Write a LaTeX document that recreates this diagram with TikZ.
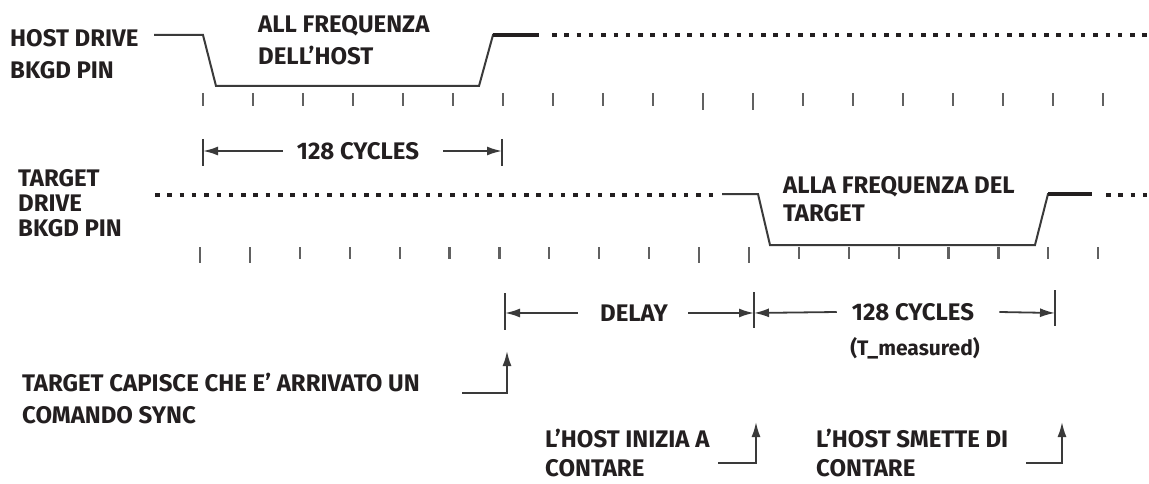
\documentclass[tikz,border=0pt]{standalone}
\usepackage{fontspec}
\setmainfont{Fira Sans}
\usetikzlibrary{arrows.meta}
\definecolor{ink}{HTML}{231F20}
\definecolor{wire}{HTML}{3A3A3A}
\begin{document}
\begin{tikzpicture}[x=1pt,y=-1pt,
  lbl/.style={font=\bfseries\fontsize{24}{#1}\selectfont, text=ink, align=left, inner sep=0pt, anchor=west},
  lbl/.default=32,
  ctr/.style={font=\bfseries\fontsize{24}{25}\selectfont, text=ink, inner sep=0pt},
  small/.style={font=\bfseries\fontsize{21}{22}\selectfont, text=ink, inner sep=0pt},
  wave/.style={line width=2pt, draw=wire, line join=miter},
  heavy/.style={line width=3.5pt, draw=ink},
  dots/.style={line width=3.2pt, draw=ink, dash pattern=on 4.5pt off 7.8pt},
  tick/.style={line width=2.2pt, draw=wire!80},
  bar/.style={line width=1.8pt, draw=wire},
  dimarrow/.style={line width=1.8pt, draw=wire, -{Latex[length=15pt,width=9pt]}},
  callout/.style={line width=1.8pt, draw=wire, -{Latex[length=15pt,width=9pt]}}
]
\useasboundingbox (0,0) rectangle (1149,484);

% ---------- Host row ----------
\node[lbl] (hostlbl) at (10,54) {HOST DRIVE\\BKGD PIN};
\node[lbl] (hostfreq) at (258,40) {ALL FREQUENZA\\DELL'HOST};
\draw[wave] (154,35) -- (203,35) -- (216,86) -- (479,86) -- (493,35) -- (500,35);
\draw[heavy] (493,35) -- (539,35);
\draw[dots] (552,35) -- (1149,35);
\foreach \k in {0,...,18} {
  \ifnum\k=10 \draw[tick] ({203+50*\k},93) -- ++(0,17);
  \else\ifnum\k=11 \draw[tick] ({203+50*\k},93) -- ++(0,17);
  \else \draw[tick] ({203+50*\k},93) -- ++(0,13); \fi\fi
}

% 128 cycles (host)
\node[ctr] (cyc1) at (358,151) {128 CYCLES};
\coordinate (b1) at (203,151);
\coordinate (b2) at (502,151);
\draw[bar] (203,139) -- (203,166);
\draw[bar] (502,139) -- (502,166);
\draw[dimarrow] ([xshift=-14pt]cyc1.west) -- (b1);
\draw[dimarrow] ([xshift=24pt]cyc1.east) -- (b2);

% ---------- Target row ----------
\node[lbl=25] (tgtlbl) at (18,203) {TARGET\\DRIVE\\BKGD PIN};
\node[lbl=28] (tgtfreq) at (783,199) {ALLA FREQUENZA DEL\\TARGET};
\draw[dots] (155,195) -- (716,195);
\draw[wave] (722,194) -- (758,194) -- (770,245) -- (1035,245) -- (1048,194) -- (1055,194);
\draw[heavy] (1048,194) -- (1092,194);
\draw[dots] (1106,195) -- (1149,195);
\foreach \k in {0,...,18} {
  \pgfmathsetmacro{\tx}{200+49.9*\k}
  \ifnum\k<2 \draw[tick] (\tx,247) -- ++(0,16);
  \else\ifnum\k=10 \draw[tick] (\tx,247) -- ++(0,16);
  \else\ifnum\k=11 \draw[tick] (\tx,247) -- ++(0,16);
  \else \draw[tick] (\tx,247) -- ++(0,12); \fi\fi\fi
}

% delay and 128 cycles (target)
\node[ctr] (delay) at (634,313) {DELAY};
\node[ctr] (cyc2) at (913,312) {128 CYCLES};
\node[small] (tmeas) at (915,348) {(T\_measured)};
\coordinate (d1) at (505,313);
\coordinate (d2) at (754,313);
\coordinate (d3) at (1055,313);
\draw[bar] (505,293) -- (505,330);
\draw[bar] (754,292) -- (754,328);
\draw[bar] (1055,290) -- (1055,326);
\draw[dimarrow] ([xshift=-22pt]delay.west) -- (d1);
\draw[dimarrow] ([xshift=20pt]delay.east) -- (d2);
\draw[dimarrow] ([xshift=-15pt]cyc2.west) -- (d2);
\draw[dimarrow] ([xshift=25pt]cyc2.east) -- (d3);

% ---------- Callouts ----------
\node[lbl] (sync) at (22,399) {TARGET CAPISCE CHE E' ARRIVATO UN\\COMANDO SYNC};
\coordinate (s0) at (462,393);
\coordinate (s1) at (507,393);
\coordinate (s2) at (507,351);
\draw[callout] (s0) -- (s1) -- (s2);

\node[lbl=29] (start) at (545,453) {L'HOST INIZIA A\\CONTARE};
\coordinate (h0) at (718,463);
\coordinate (h1) at (756,463);
\coordinate (h2) at (756,422);
\draw[callout] (h0) -- (h1) -- (h2);

\node[lbl=29] (stop) at (816,453) {L'HOST SMETTE DI\\CONTARE};
\coordinate (e0) at (1026,463);
\coordinate (e1) at (1062,463);
\coordinate (e2) at (1062,422);
\draw[callout] (e0) -- (e1) -- (e2);
\end{tikzpicture}
\end{document}
